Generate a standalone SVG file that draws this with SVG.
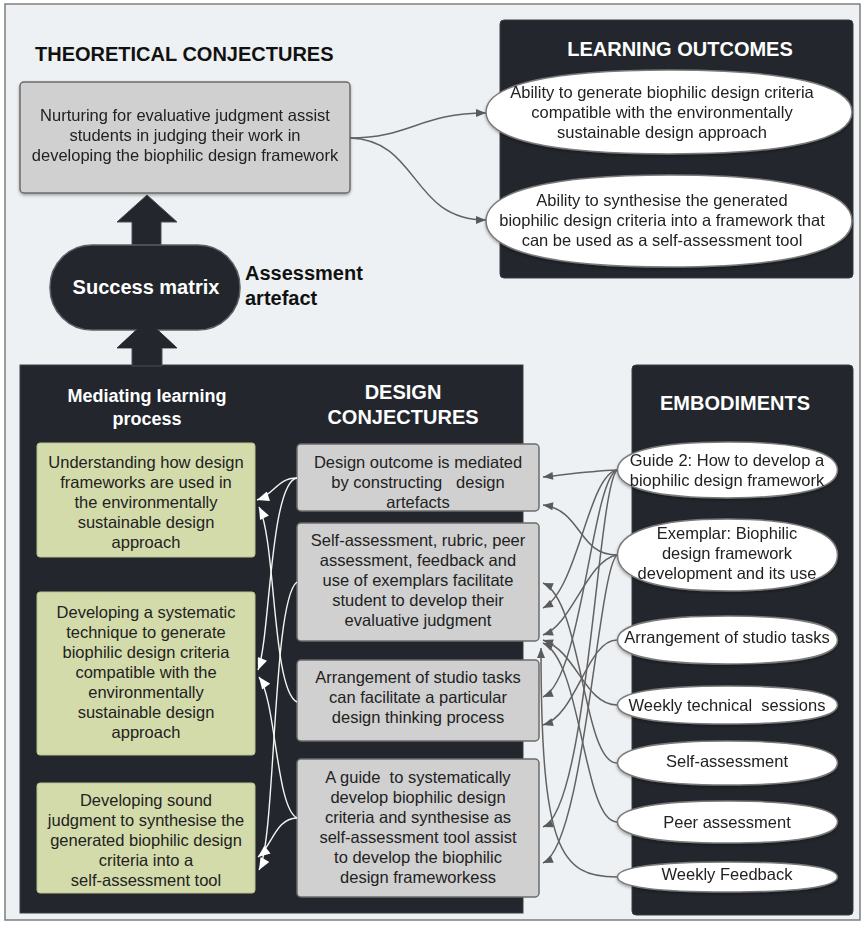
<svg xmlns="http://www.w3.org/2000/svg" width="865" height="928" viewBox="0 0 865 928">
  <defs>
    <style>
      text { font-family: "Liberation Sans", Arial, sans-serif; }
      .body { font-size: 16.5px; fill: #222; text-anchor: middle; white-space: pre; }
      .title { font-size: 20px; font-weight: bold; fill: #fff; text-anchor: middle; }
      .panel { fill: #23272d; stroke: #3a3e44; stroke-width: 1; }
      .gbox { fill: #d0d0d0; stroke: #6b6b6b; stroke-width: 1.5; }
      .green { fill: #d3dbaa; stroke: #b9c190; stroke-width: 1; }
      .oval { fill: #fff; stroke: #7a7a7a; stroke-width: 1.5; }
      .link { fill: none; stroke: #626262; stroke-width: 1.5; marker-end: url(#arrGray); }
      .wlink { fill: none; stroke: #f4f4f4; stroke-width: 1.4; marker-end: url(#arrWhite); }
      .block { fill: #23272d; stroke: #4a4e54; stroke-width: 1; }
    </style>
    <marker id="arrGray" viewBox="0 0 10 8" refX="10" refY="4" markerWidth="11" markerHeight="8" markerUnits="userSpaceOnUse" orient="auto">
      <path d="M0,0 L10,4 L0,8 z" fill="#5a5a5a"/>
    </marker>
    <marker id="arrWhite" viewBox="0 0 12 10" refX="12" refY="5" markerWidth="13" markerHeight="10" markerUnits="userSpaceOnUse" orient="auto">
      <path d="M0,0 L12,5 L0,10 z" fill="#ffffff"/>
    </marker>
    <filter id="shadow" x="-10%" y="-10%" width="120%" height="130%">
      <feDropShadow dx="0" dy="1.5" stdDeviation="1.5" flood-color="#000" flood-opacity="0.35"/>
    </filter>
  </defs>

  <!-- frame -->
  <rect x="5" y="4" width="855" height="916" fill="#eef1f3" stroke="#7d7d7d" stroke-width="1.5"/>

  <!-- panels -->
  <rect class="panel" x="500" y="20" width="353" height="258" rx="4"/>
  <rect class="panel" x="20" y="365" width="503" height="548"/>
  <rect class="panel" x="632" y="365" width="221" height="550" rx="4"/>

  <!-- headings -->
  <text x="35" y="61" style="font-size:20px;font-weight:bold;fill:#111">THEORETICAL CONJECTURES</text>
  <text class="title" x="680" y="56">LEARNING OUTCOMES</text>
  <text class="title" x="147" y="402" style="font-size:18px">Mediating learning</text>
  <text class="title" x="147" y="425" style="font-size:18px">process</text>
  <text class="title" x="403" y="399">DESIGN</text>
  <text class="title" x="403" y="424">CONJECTURES</text>
  <text class="title" x="735" y="410">EMBODIMENTS</text>

  <!-- block arrows -->
  <g id="up-arrow-top">
    <polygon class="block" points="147,195 177,222 161,222 161,250 132,250 132,222 117,222"/>
  </g>
  <g id="up-arrow-bottom">
    <polygon class="block" points="147,320 177,348 162,348 162,366 132,366 132,348 117,348"/>
  </g>

  <!-- success matrix -->
  <g id="success-matrix">
    <rect x="50" y="245" width="190" height="85" rx="42" fill="#23272d" stroke="#5c6066" stroke-width="1.5"/>
    <polygon class="block" points="147,320 177,348 117,348" style="stroke:none"/>
    <text class="title" x="146" y="294">Success matrix</text>
  </g>
  <g id="assessment-artefact">
    <text x="245" y="280" style="font-size:20px;font-weight:bold;fill:#111">Assessment</text>
    <text x="245" y="305" style="font-size:20px;font-weight:bold;fill:#111">artefact</text>
  </g>

  <!-- theoretical conjecture -->
  <g id="theory" filter="url(#shadow)">
    <rect class="gbox" x="20" y="82" width="330" height="111" rx="4"/>
    <text class="body" x="185" y="121">Nurturing for evaluative judgment assist</text>
    <text class="body" x="185" y="141">students in judging their work in</text>
    <text class="body" x="185" y="161">developing the biophilic design framework</text>
  </g>

  <!-- learning outcomes -->
  <g id="outcome-1" filter="url(#shadow)">
    <path class="oval" d="M486,112 C486,84.7 550,70 669,70 C788,70 852,84.7 852,112 C852,139.3 788,154 669,154 C550,154 486,139.3 486,112 Z"/>
    <text class="body" x="662" y="98">Ability to generate biophilic design criteria</text>
    <text class="body" x="662" y="118">compatible with the environmentally</text>
    <text class="body" x="662" y="138">sustainable design approach</text>
  </g>
  <g id="outcome-2" filter="url(#shadow)">
    <path class="oval" d="M486,221 C486,191.1 550,175 669,175 C788,175 852,191.1 852,221 C852,250.9 788,267 669,267 C550,267 486,250.9 486,221 Z"/>
    <text class="body" x="662" y="206">Ability to synthesise the generated</text>
    <text class="body" x="662" y="226">biophilic design criteria into a framework that</text>
    <text class="body" x="662" y="246">can be used as a self-assessment tool</text>
  </g>

  <!-- mediating learning process -->
  <g id="process-1">
    <rect class="green" x="37" y="443" width="218" height="114" rx="3"/>
    <text class="body" x="146" y="468">Understanding how design</text>
    <text class="body" x="146" y="488">frameworks are used in</text>
    <text class="body" x="146" y="508">the environmentally</text>
    <text class="body" x="146" y="528">sustainable design</text>
    <text class="body" x="146" y="548">approach</text>
  </g>
  <g id="process-2">
    <rect class="green" x="37" y="592" width="218" height="163" rx="3"/>
    <text class="body" x="146" y="618">Developing a systematic</text>
    <text class="body" x="146" y="638">technique to generate</text>
    <text class="body" x="146" y="658">biophilic design criteria</text>
    <text class="body" x="146" y="678">compatible with the</text>
    <text class="body" x="146" y="698">environmentally</text>
    <text class="body" x="146" y="718">sustainable design</text>
    <text class="body" x="146" y="738">approach</text>
  </g>
  <g id="process-3">
    <rect class="green" x="37" y="783" width="218" height="110" rx="3"/>
    <text class="body" x="146" y="806">Developing sound</text>
    <text class="body" x="146" y="826">judgment to synthesise the</text>
    <text class="body" x="146" y="846">generated biophilic design</text>
    <text class="body" x="146" y="866">criteria into a</text>
    <text class="body" x="146" y="886">self-assessment tool</text>
  </g>

  <!-- design conjectures -->
  <g id="design-1">
    <rect class="gbox" x="297" y="444" width="242" height="67" rx="4"/>
    <text class="body" x="418" y="468">Design outcome is mediated</text>
    <text class="body" x="418" y="488">by constructing   design</text>
    <text class="body" x="418" y="508">artefacts</text>
  </g>
  <g id="design-2">
    <rect class="gbox" x="297" y="523" width="242" height="118" rx="4"/>
    <text class="body" x="418" y="546">Self-assessment, rubric, peer</text>
    <text class="body" x="418" y="566">assessment, feedback and</text>
    <text class="body" x="418" y="586">use of exemplars facilitate</text>
    <text class="body" x="418" y="606">student to develop their</text>
    <text class="body" x="418" y="626">evaluative judgment</text>
  </g>
  <g id="design-3">
    <rect class="gbox" x="297" y="660" width="242" height="81" rx="4"/>
    <text class="body" x="418" y="683">Arrangement of studio tasks</text>
    <text class="body" x="418" y="703">can facilitate a particular</text>
    <text class="body" x="418" y="723">design thinking process</text>
  </g>
  <g id="design-4">
    <rect class="gbox" x="297" y="759" width="242" height="138" rx="4"/>
    <text class="body" x="418" y="783">A guide  to systematically</text>
    <text class="body" x="418" y="803">develop biophilic design</text>
    <text class="body" x="418" y="823">criteria and synthesise as</text>
    <text class="body" x="418" y="843">self-assessment tool assist</text>
    <text class="body" x="418" y="863">to develop the biophilic</text>
    <text class="body" x="418" y="883">design frameworkess</text>
  </g>

  <!-- embodiments -->
  <g id="emb-guide" filter="url(#shadow)">
    <path class="oval" d="M617.5,470 C617.5,451.8 656,442 727.5,442 C799,442 837.5,451.8 837.5,470 C837.5,488.2 799,498 727.5,498 C656,498 617.5,488.2 617.5,470 Z"/>
    <text class="body" x="727" y="466">Guide 2: How to develop a</text>
    <text class="body" x="727" y="486">biophilic design framework</text>
  </g>
  <g id="emb-exemplar" filter="url(#shadow)">
    <path class="oval" d="M617.5,555 C617.5,531.6 656,519 727.5,519 C799,519 837.5,531.6 837.5,555 C837.5,578.4 799,591 727.5,591 C656,591 617.5,578.4 617.5,555 Z"/>
    <text class="body" x="727" y="539">Exemplar: Biophilic</text>
    <text class="body" x="727" y="559">design framework</text>
    <text class="body" x="727" y="579">development and its use</text>
  </g>
  <g id="emb-tasks" filter="url(#shadow)">
    <path class="oval" d="M617.5,640 C617.5,624.4 656,616 727.5,616 C799,616 837.5,624.4 837.5,640 C837.5,655.6 799,664 727.5,664 C656,664 617.5,655.6 617.5,640 Z"/>
    <text class="body" x="727" y="643">Arrangement of studio tasks</text>
  </g>
  <g id="emb-technical" filter="url(#shadow)">
    <path class="oval" d="M617.5,705 C617.5,692.65 656,686 727.5,686 C799,686 837.5,692.65 837.5,705 C837.5,717.35 799,724 727.5,724 C656,724 617.5,717.35 617.5,705 Z"/>
    <text class="body" x="727" y="711">Weekly technical  sessions</text>
  </g>
  <g id="emb-self" filter="url(#shadow)">
    <path class="oval" d="M617.5,763 C617.5,748.7 656,741 727.5,741 C799,741 837.5,748.7 837.5,763 C837.5,777.3 799,785 727.5,785 C656,785 617.5,777.3 617.5,763 Z"/>
    <text class="body" x="727" y="767">Self-assessment</text>
  </g>
  <g id="emb-peer" filter="url(#shadow)">
    <path class="oval" d="M617.5,822 C617.5,808.35 656,801 727.5,801 C799,801 837.5,808.35 837.5,822 C837.5,835.65 799,843 727.5,843 C656,843 617.5,835.65 617.5,822 Z"/>
    <text class="body" x="727" y="828">Peer assessment</text>
  </g>
  <g id="emb-feedback" filter="url(#shadow)">
    <path class="oval" d="M617.5,877 C617.5,867.25 656,862 727.5,862 C799,862 837.5,867.25 837.5,877 C837.5,886.75 799,892 727.5,892 C656,892 617.5,886.75 617.5,877 Z"/>
    <text class="body" x="727" y="880">Weekly Feedback</text>
  </g>

  <!-- connectors -->
  <g id="connectors">
    <!-- theory to outcomes -->
    <path class="link" d="M350,138 C410,138 420,113 486,113"/>
    <path class="link" d="M350,138 C420,140 410,220 486,220"/>

    <!-- embodiments to design conjectures -->
    <path class="link" d="M617,470 C590,471 570,474 543,477"/>
    <path class="link" d="M617,470 C588,475 578,590 543,608"/>
    <path class="link" d="M617,470 C592,480 582,680 543,697"/>
    <path class="link" d="M617,470 C597,490 588,810 543,827"/>
    <path class="link" d="M617,555 C578,555 582,510 543,505"/>
    <path class="link" d="M617,555 C587,560 572,625 543,635"/>
    <path class="link" d="M617,555 C598,570 584,845 543,863"/>
    <path class="link" d="M617,640 C587,640 577,715 543,725"/>
    <path class="link" d="M617,705 C585,705 577,652 543,640"/>
    <path class="link" d="M617,763 C583,763 582,600 543,583"/>
    <path class="link" d="M617,822 C583,822 582,660 543,643"/>
    <path class="link" d="M617,877 C560,877 541,850 541,648"/>

    <!-- design conjectures to learning processes -->
    <path class="wlink" d="M297,478 C277,478 275,494 257,500"/>
    <path class="wlink" d="M297,478 C270,482 270,640 258,670"/>
    <path class="wlink" d="M297,582 C272,600 276,840 259,870"/>
    <path class="wlink" d="M297,702 C272,690 276,540 259,507"/>
    <path class="wlink" d="M297,818 C276,818 272,846 258,857"/>
    <path class="wlink" d="M297,818 C276,808 276,700 259,677"/>
  </g>
</svg>
